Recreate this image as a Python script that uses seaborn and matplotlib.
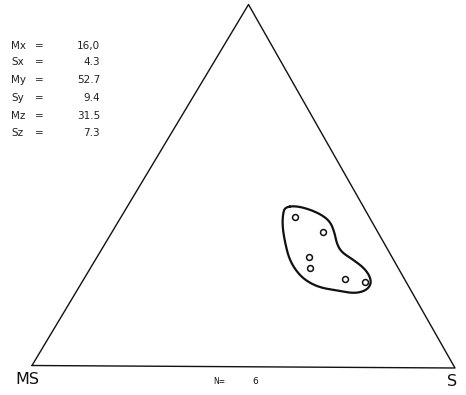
import numpy as np
import pandas as pd
import seaborn as sns
import matplotlib
matplotlib.use("Agg")
import matplotlib.pyplot as plt

# composiciones de las muestras (%), MS + S + top = 100
ms = [17.6, 12.9, 19.7, 20.8, 14.1, 9.9]
s = [40.9, 49.8, 49.9, 51.8, 61.6, 66.6]

# contorno del grupo, en (S, top) %
cont_s = [37.2, 39.5, 43.2, 47.1, 50.0, 52.4, 54.6, 56.9, 60.2, 64.1, 66.8,
          68.4, 68.1, 65.7, 61.4, 57.1, 53.2, 49.7, 45.8, 42.4, 39.4, 37.8]
cont_top = [44.1, 44.5, 43.6, 42.0, 40.1, 37.3, 34.1, 31.8, 30.0, 27.7, 25.4,
            23.1, 21.2, 20.4, 21.2, 21.9, 23.5, 25.8, 29.5, 34.1, 38.7, 42.0]

stat_names = ["Mx", "Sx", "My", "Sy", "Mz", "Sz"]
stat_vals = ["16,0", "4.3", "52.7", "9.4", "31.5", "7.3"]
n_txt = "6"

# vertices en pixeles (MS, S, top)
V_MS = np.array([32.0, 365.5])
V_S = np.array([455.0, 368.0])
V_TOP = np.array([248.5, 4.5])


def tern(s_pct, top_pct):
    s_ = np.asarray(s_pct) / 100.0
    t_ = np.asarray(top_pct) / 100.0
    m_ = 1.0 - s_ - t_
    xy = np.outer(m_, V_MS) + np.outer(s_, V_S) + np.outer(t_, V_TOP)
    return xy[:, 0], xy[:, 1]


def chaikin(x, y, n=4):
    p = np.column_stack([x, y])
    for _ in range(n):
        q = np.roll(p, -1, axis=0)
        p = np.column_stack([0.75 * p + 0.25 * q, 0.25 * p + 0.75 * q]).reshape(-1, 2)
    p = np.vstack([p, p[:1]])
    return p[:, 0], p[:, 1]


top = [100 - a - b for a, b in zip(ms, s)]
px, py = tern(s, top)
df = pd.DataFrame({"x": px, "y": py})

sns.set_style("white")
fig = plt.figure(figsize=(4.66, 3.95), dpi=100)
ax = fig.add_axes([0, 0, 1, 1])
ax.set_xlim(0, 466)
ax.set_ylim(395, 0)
ax.axis("off")

tri = np.array([V_MS, V_S, V_TOP, V_MS])
ax.plot(tri[:, 0], tri[:, 1], color="#111111", lw=1.0)

cx, cy = tern(cont_s, cont_top)
cx, cy = chaikin(cx, cy)
ax.plot(cx, cy, color="#111111", lw=1.6)

sns.scatterplot(data=df, x="x", y="y", ax=ax, marker="o", s=18,
                facecolor="white", edgecolor="#111111", linewidth=1.1, legend=False)

ys = [46, 62, 80, 98, 116, 133]
for name, val, yy in zip(stat_names, stat_vals, ys):
    ax.text(11, yy, name, fontsize=7.5, va="center", ha="left", color="#222222")
    ax.text(35, yy, "=", fontsize=7.5, va="center", ha="left", color="#222222")
    ax.text(100, yy, val, fontsize=7.5, va="center", ha="right", color="#222222")

ax.text(15, 380, "MS", fontsize=11.5, va="center", ha="left", color="#111111")
ax.text(447, 381, "S", fontsize=11.5, va="center", ha="left", color="#111111")
ax.text(213, 381, "N=", fontsize=5.5, va="center", ha="left", color="#111111")
ax.text(255, 381, n_txt, fontsize=6.5, va="center", ha="center", color="#111111")

fig.savefig("out.png", dpi=100)
